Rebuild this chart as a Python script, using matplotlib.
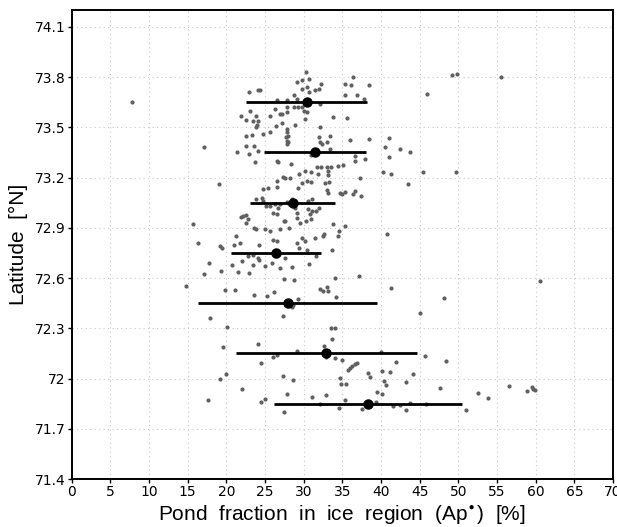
import matplotlib
matplotlib.use("Agg")
import matplotlib.pyplot as plt
import numpy as np

# Scatter points: pond fraction (%) and latitude (deg N)
pond_x = [
    7.75,
    30.3, 29.2, 29.75, 30.7, 30.5, 29.75, 31.5, 32.0, 32.3, 30.7, 35.4, 36.4, 36.1, 38.4, 35.4, 36.9, 37.8,
    28.7, 29.1, 27.8, 32.1, 28.7, 29.3, 29.8, 27.8, 27.9, 30.0, 30.4, 30.2, 33.8, 35.6, 28.9, 32.1,
    49.2, 49.8, 55.5, 46.0,
    22.9, 24.1, 24.3, 26.5, 26.3, 23.1, 21.9, 23.9, 25.6, 26.9, 27.2, 22.6, 23.4, 24.1, 24.0, 23.9, 26.4,
    27.2, 25.7, 24.7, 22.6, 23.3, 22.6, 23.6, 24.1, 21.4, 22.9, 23.7, 17.1, 26.6, 26.7, 26.5, 27.4, 19.1,
    27.8, 27.9, 28.0, 27.7, 27.9,
    32.0, 33.4, 32.1, 32.4, 33.0, 36.0, 38.4, 28.0, 27.8, 33.4, 31.0, 36.7, 36.6, 37.9, 28.4, 30.2, 31.7,
    32.3, 33.0, 33.6, 34.4, 35.1, 31.0, 31.9, 33.2, 33.1, 37.3, 29.4, 28.2, 27.6, 30.5, 29.8, 31.0, 32.8, 33.3,
    41.0, 40.5, 42.4, 43.7, 41.1, 40.2, 41.3, 45.5, 49.7, 43.5,
    24.7, 25.4, 26.6, 23.9, 24.6, 24.8, 25.2, 25.65, 26.3, 26.7, 26.95, 26.1, 26.5, 21.9, 22.2, 22.6, 22.8,
    22.55, 27.5, 15.65, 23.6, 23.8, 25.0, 25.6, 26.95, 21.2, 26.0, 26.5, 16.3, 21.8, 21.0, 19.2, 19.5, 24.2,
    23.4, 22.85, 24.1, 24.2, 22.0, 17.8, 20.7, 23.4, 25.0, 25.9, 26.95, 19.3, 21.5, 23.0, 17.1, 14.8, 21.1,
    23.6, 25.3, 26.2,
    29.3, 33.0, 33.1, 34.7, 34.9, 35.4, 36.6, 36.35, 37.4, 28.5, 28.5, 28.1, 27.8, 30.6, 31.1, 28.9, 30.6,
    31.05, 31.6, 32.0, 30.8, 29.2, 29.2, 29.5, 30.3, 30.9, 28.1, 27.6, 33.8, 35.4, 34.6, 34.4, 32.7, 32.55,
    40.75, 31.5, 29.8, 30.2, 29.2, 29.4, 30.5, 33.7, 31.6, 27.6, 30.7, 28.5, 34.0, 37.1, 28.8, 41.3, 32.1,
    32.5, 33.0, 33.1, 34.2, 29.3,
    60.6, 48.1, 45.1, 27.5, 19.8, 28.6,
    17.9, 20.1, 27.3, 19.6, 24.1, 24.5, 26.1, 26.6, 20.0, 19.2, 27.4, 22.0, 17.7, 24.5, 25.0, 27.5,
    28.5, 33.5, 34.1, 33.7, 32.7, 29.1, 32.9, 34.0, 34.9, 40.0, 42.0, 35.7, 36.0, 36.3, 36.6, 36.9, 34.7,
    34.8, 35.5, 38.3, 38.6, 40.1, 41.2, 40.45, 40.7, 28.6, 27.8, 31.1, 32.9, 39.45, 40.1, 35.3, 34.6, 37.6,
    41.5, 32.1,
    45.7, 48.4, 44.1, 43.25, 47.6, 56.5, 59.5, 59.7, 59.9, 58.9, 52.5, 53.8, 39.4, 42.5, 43.8, 45.8, 43.3, 51.0,
]
pond_lat = [
    73.65,
    73.83, 73.77, 73.78, 73.79, 73.74, 73.73, 73.72, 73.73, 73.76, 73.71, 73.76, 73.80, 73.75, 73.75, 73.69, 73.69, 73.67,
    73.69, 73.67, 73.66, 73.64, 73.62, 73.62, 73.62, 73.62, 73.59, 73.60, 73.59, 73.55, 73.56, 73.555, 73.515, 73.50,
    73.81, 73.82, 73.80, 73.70,
    73.71, 73.72, 73.72, 73.66, 73.61, 73.60, 73.57, 73.57, 73.565, 73.58, 73.58, 73.545, 73.54, 73.535, 73.515, 73.50, 73.51,
    73.525, 73.47, 73.46, 73.45, 73.455, 73.39, 73.39, 73.36, 73.35, 73.34, 73.29, 73.385, 73.30, 73.29, 73.18, 73.205, 73.16,
    73.49, 73.47, 73.45, 73.44, 73.42,
    73.44, 73.445, 73.41, 73.40, 73.415, 73.425, 73.43, 73.41, 73.40, 73.37, 73.335, 73.33, 73.30, 73.31, 73.28, 73.24, 73.265,
    73.265, 73.265, 73.265, 73.27, 73.275, 73.23, 73.22, 73.24, 73.215, 73.195, 73.22, 73.20, 73.195, 73.18, 73.165, 73.175, 73.165, 73.175,
    73.435, 73.38, 73.37, 73.35, 73.32, 73.235, 73.22, 73.23, 73.23, 73.16,
    73.13, 73.135, 73.145, 73.07, 73.08, 73.06, 73.03, 73.03, 73.04, 73.02, 73.04, 72.99, 72.98, 72.965, 72.97, 72.975, 72.95,
    72.93, 72.94, 72.92, 72.90, 72.89, 72.89, 72.88, 72.89, 72.85, 72.83, 72.82, 72.81, 72.81, 72.80, 72.79, 72.78, 72.795,
    72.74, 72.73, 72.72, 72.71, 72.70, 72.69, 72.68, 72.675, 72.67, 72.69, 72.66, 72.64, 72.635, 72.63, 72.625, 72.555, 72.53,
    72.50, 72.495, 72.515,
    73.14, 73.125, 73.105, 73.11, 73.10, 73.115, 73.12, 73.10, 73.09, 73.07, 73.05, 73.04, 73.055, 73.06, 73.07, 73.02, 73.01,
    73.00, 73.00, 73.02, 72.98, 72.99, 72.96, 72.93, 72.94, 72.95, 72.90, 72.94, 72.92, 72.91, 72.88, 72.85, 72.86, 72.85,
    72.86, 72.84, 72.84, 72.82, 72.81, 72.78, 72.77, 72.77, 72.73, 72.72, 72.685, 72.665, 72.60, 72.61, 72.59, 72.54, 72.535,
    72.52, 72.545, 72.525, 72.485, 72.475,
    72.585, 72.48, 72.39, 72.595, 72.53, 72.44,
    72.36, 72.31, 72.375, 72.19, 72.205, 72.09, 72.13, 72.14, 72.03, 72.00, 72.015, 71.94, 71.87, 71.86, 71.88, 71.80,
    72.43, 72.30, 72.30, 72.235, 72.195, 72.165, 72.13, 72.12, 72.11, 72.16, 72.10, 72.05, 72.06, 72.075, 72.085, 72.09, 72.005,
    71.97, 71.965, 72.035, 72.01, 72.045, 72.04, 71.985, 71.96, 71.99, 71.905, 71.89, 71.90, 71.92, 71.91, 71.87, 71.825, 71.82,
    71.835, 71.85,
    72.135, 72.105, 72.025, 71.98, 71.945, 71.955, 71.95, 71.94, 71.93, 71.925, 71.915, 71.885, 71.86, 71.84, 71.855, 71.85, 71.815, 71.81,
]

# Binned means and standard deviations
bin_lat = [73.65, 73.35, 73.05, 72.75, 72.45, 72.15, 71.85]
bin_mean = [30.4, 31.5, 28.6, 26.45, 27.95, 32.9, 38.35]
bin_std = [7.8, 6.6, 5.5, 5.85, 11.55, 11.7, 12.15]

x_ticks = list(range(0, 71, 5))
y_ticks = [71.4, 71.7, 72.0, 72.3, 72.6, 72.9, 73.2, 73.5, 73.8, 74.1]
y_tick_labels = ["71.4", "71.7", "72", "72.3", "72.6", "72.9", "73.2", "73.5", "73.8", "74.1"]

fig = plt.figure(figsize=(6.17, 5.27), dpi=100)
ax = fig.add_axes([0.116, 0.091, 0.8775, 0.890])

ax.grid(True, color="#c8c8c8", linestyle=(0, (1, 3)), linewidth=0.8)
ax.set_axisbelow(True)

ax.scatter(pond_x, pond_lat, s=9, color="#606060", linewidths=0, zorder=2)
ax.errorbar(bin_mean, bin_lat, xerr=bin_std, fmt="o", color="black",
            markersize=6.5, elinewidth=2.0, capsize=0, zorder=3)

ax.set_xlim(0, 70)
ax.set_ylim(71.4, 74.2)
ax.set_xticks(x_ticks)
ax.set_yticks(y_ticks)
ax.set_yticklabels(y_tick_labels)
ax.tick_params(direction="out", length=3, width=1, labelsize=10, pad=1.5)

for sp in ax.spines.values():
    sp.set_linewidth(1.4)
    sp.set_color("black")

ax.set_xlabel("Pond  fraction  in  ice  region  (Ap$^{\\bullet}$)  [%]",
              fontsize=15, family="Liberation Sans", labelpad=3)
ax.set_ylabel("Latitude  [°N]", fontsize=15, family="Liberation Sans", labelpad=5)

fig.savefig("out.png", dpi=100)
